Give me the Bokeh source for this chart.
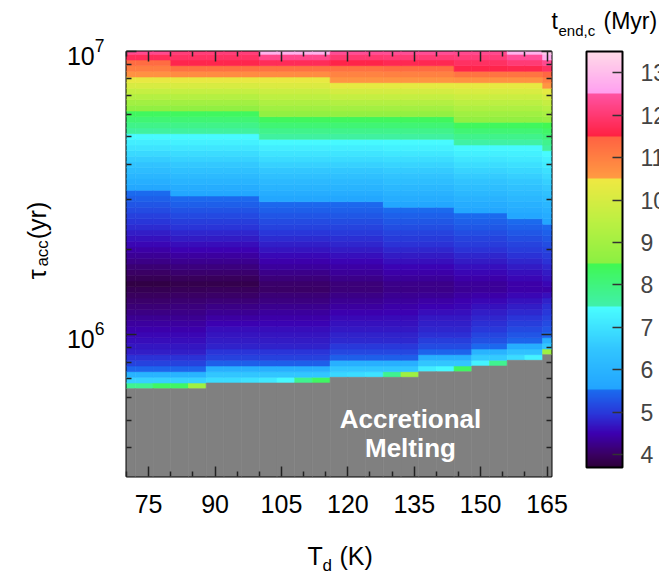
import numpy as np
from bokeh.plotting import figure
from bokeh.layouts import row
from bokeh.models import (Range1d, FixedTicker, LogAxis, LinearAxis, ColorBar,
                          LinearColorMapper, Label, ColumnDataSource)
from bokeh.core.properties import value
from bokeh.transform import linear_cmap
from bokeh.embed import file_html
from bokeh.resources import INLINE

# ---------------- data ----------------
# dust temperature columns (K), cell width 4 K
T_d = [70, 74, 78, 82, 86, 90, 94, 98, 102, 106, 110, 114, 118, 122, 126,
       130, 134, 138, 142, 146, 150, 154, 158, 162, 166]
# log10(tau_acc / yr) of the accretional-melting limit (grey below)
melt_log_tau = [5.81, 5.81, 5.81, 5.81, 5.81, 5.83, 5.83, 5.83, 5.83, 5.83, 5.83, 5.83,
                5.85, 5.85, 5.85, 5.85, 5.85, 5.87, 5.87, 5.87, 5.89, 5.89, 5.91, 5.91, 5.93]
# t_end,c (Myr) in the row just above the melting limit
edge_t_end = [7.8, 7.8, 8.3, 8.3, 8.9, 6.9, 6.9, 7.0, 7.1, 7.4, 7.8, 8.3,
              6.8, 6.9, 7.0, 7.8, 8.9, 7.2, 7.4, 8.3, 7.3, 7.8, 6.9, 7.3, 8.9]
# lower profile: offsets in log tau above the melting limit and t_end there
melt_group = [0, 0, 0, 0, 0, 1, 1, 1, 1, 1, 1, 1, 2, 2, 2, 2, 2, 3, 3, 3, 4, 4, 5, 5, 6]
lower_offsets = [0.03, 0.05, 0.07, 0.09, 0.13, 0.19]
lower_t_end = [
    [6.7, 6.0, 5.45, 5.1, 4.75, 4.55],
    [6.5, 5.9, 5.4, 5.1, 4.8, 4.6],
    [6.5, 5.9, 5.4, 5.15, 4.85, 4.65],
    [6.5, 5.9, 5.45, 5.2, 4.9, 4.7],
    [6.6, 6.0, 5.5, 5.25, 5.0, 4.75],
    [6.4, 5.8, 5.45, 5.3, 5.05, 4.75],
    [6.5, 5.9, 5.5, 5.3, 5.1, 4.8],
]
# upper profile groups (columns share the coarse upper structure)
upper_group = [0, 0, 0, 1, 1, 1, 1, 1, 2, 2, 2, 2, 3, 3, 3, 4, 4, 4, 4, 5, 5, 5, 6, 6, 7]
min_log_tau = [6.18, 6.18, 6.17, 6.17, 6.17, 6.17, 6.17, 6.16]
min_t_end = [3.8, 3.85, 4.0, 4.1, 4.2, 4.3, 4.4, 4.45]
log_tau_at_5p55 = [6.509, 6.491, 6.471, 6.471, 6.450, 6.430, 6.410, 6.391]
log_tau_at_7p5 = [6.709, 6.709, 6.692, 6.692, 6.692, 6.674, 6.674, 6.650]
log_tau_at_8p5 = [6.792, 6.792, 6.770, 6.770, 6.770, 6.750, 6.750, 6.740]
log_tau_at_10p5 = [6.909, 6.909, 6.909, 6.892, 6.892, 6.892, 6.892, 6.874]
log_tau_at_11p5 = [6.971, 6.951, 6.951, 6.957, 6.951, 6.933, 6.933, 6.925]
top_t_end = [12.3, 12.1, 12.8, 12.4, 12.4, 12.3, 12.8, 13.2]

# colour bar
cb_low, cb_high = 3.7, 13.5
cb_ticks = [4, 5, 6, 7, 8, 9, 10, 11, 12, 13]

# ---------------- colour map ----------------
cmap_vals = [3.7, 4.0, 4.5, 4.95, 5.5499, 5.55, 6.5, 7.4999, 7.5, 8.4999, 8.5, 9.5,
             10.4999, 10.5, 11.4999, 11.5, 12.4999, 12.5, 13.5]
cmap_cols = ['#2d0038', '#3a0062', '#3c00b0', '#2a34d8', '#1a6ef0', '#22a4ff', '#32c6ff',
             '#4affff', '#40f0aa', '#40f852', '#8af042', '#bcf042', '#f0e842', '#ff9c42',
             '#ff6242', '#ff2042', '#ff52a2', '#ff9ef0', '#ffdce8']


def hex2rgb(h):
    return [int(h[i:i + 2], 16) for i in (1, 3, 5)]


rgb = np.array([hex2rgb(c) for c in cmap_cols], dtype=float)
n_col = 490
palette = []
for i in range(n_col):
    v = cb_low + (i + 0.5) * (cb_high - cb_low) / n_col
    r, g, b = (np.interp(v, cmap_vals, rgb[:, k]) for k in range(3))
    palette.append('#%02x%02x%02x' % (int(round(r)), int(round(g)), int(round(b))))

# ---------------- build the cells ----------------
row_centres = np.round(5.50 + 0.02 * np.arange(76), 2)
cells = dict(left=[], right=[], bottom=[], top=[], t_end=[])
grey = dict(left=[], right=[], bottom=[], top=[])
for c, T in enumerate(T_d):
    m = melt_log_tau[c]
    mg = melt_group[c]
    ug = upper_group[c]
    ax = [m + 0.01] + [m + o for o in lower_offsets] + [min_log_tau[ug],
          log_tau_at_5p55[ug], log_tau_at_7p5[ug], log_tau_at_8p5[ug],
          log_tau_at_10p5[ug], log_tau_at_11p5[ug], 7.0]
    av = [edge_t_end[c]] + lower_t_end[mg] + [min_t_end[ug], 5.55, 7.5, 8.5, 10.5, 11.5,
                                               top_t_end[ug]]
    grey['left'].append(T - 2)
    grey['right'].append(T + 2)
    grey['bottom'].append(10 ** 5.49)
    grey['top'].append(10 ** m)
    for lc in row_centres:
        if lc < m + 0.005:
            continue
        cells['left'].append(T - 2)
        cells['right'].append(T + 2)
        cells['bottom'].append(10 ** (lc - 0.01))
        cells['top'].append(10 ** (lc + 0.01))
        cells['t_end'].append(float(np.interp(lc, ax, av)))

FONT = "Liberation Sans"
LEFT_W = 60      # width of the strip that holds the rotated y title
FRAME_L, FRAME_B = 126, 476   # frame position on the page

p = figure(width=659 - LEFT_W, height=575, output_backend="svg", toolbar_location=None,
           y_axis_type="log", x_range=Range1d(70, 166), y_range=Range1d(10 ** 5.5, 1e7),
           min_border_left=FRAME_L - LEFT_W, min_border_right=108, min_border_top=51,
           min_border_bottom=99)
p.grid.visible = False
p.outline_line_color = "black"
p.outline_line_width = 2
p.background_fill_color = "white"
p.border_fill_color = "white"

cmap = linear_cmap('t_end', palette, cb_low, cb_high)
p.quad(left='left', right='right', bottom='bottom', top='top', source=ColumnDataSource(cells),
       fill_color=cmap, line_color=cmap, line_width=0.6)
p.quad(left='left', right='right', bottom='bottom', top='top', source=ColumnDataSource(grey),
       fill_color="#808080", line_color="#808080", line_width=0.6)

x_ticker = FixedTicker(ticks=[75, 90, 105, 120, 135, 150, 165],
                       minor_ticks=[70, 80, 85, 95, 100, 110, 115, 125, 130, 140, 145, 155, 160])
y_ticker = FixedTicker(ticks=[1e6, 1e7],
                       minor_ticks=[4e5, 5e5, 6e5, 7e5, 8e5, 9e5, 2e6, 3e6, 4e6, 5e6, 6e6,
                                    7e6, 8e6, 9e6])


def style_axis(ax, labels=True):
    ax.axis_line_color = None
    ax.major_tick_in = 10
    ax.major_tick_out = 0
    ax.minor_tick_in = 5
    ax.minor_tick_out = 0
    ax.major_tick_line_color = "#222222"
    ax.minor_tick_line_color = "#222222"
    ax.major_tick_line_width = 1.5
    ax.minor_tick_line_width = 1.5
    ax.major_label_text_font = FONT
    ax.major_label_text_font_size = "25px"
    ax.major_label_text_color = "black" if labels else None


p.xaxis.ticker = x_ticker
p.yaxis.ticker = y_ticker
style_axis(p.xaxis[0])
style_axis(p.yaxis[0])
p.xaxis.major_label_standoff = 18
p.yaxis.major_label_standoff = 22

top_ax = LinearAxis(ticker=x_ticker)
style_axis(top_ax, labels=False)
p.add_layout(top_ax, "above")
right_ax = LogAxis(ticker=y_ticker)
style_axis(right_ax, labels=False)
p.add_layout(right_ax, "right")

# accretional melting text (inside the frame)
p.add_layout(Label(x=284, y=58, x_units="screen", y_units="screen", text="Accretional",
                   text_align="center", text_baseline="alphabetic", text_color="white",
                   text_font=FONT, text_font_style="bold", text_font_size="26px"))
p.add_layout(Label(x=284, y=29, x_units="screen", y_units="screen", text="Melting",
                   text_align="center", text_baseline="alphabetic", text_color="white",
                   text_font=FONT, text_font_style="bold", text_font_size="26px"))

# colour bar
mapper = LinearColorMapper(palette=palette, low=cb_low, high=cb_high)
cb = ColorBar(color_mapper=mapper, ticker=FixedTicker(ticks=cb_ticks), width=36, height=416,
              location=(460, 9), padding=0, margin=0, bar_line_color="black",
              bar_line_width=2, major_tick_in=10, major_tick_out=0,
              major_tick_line_color="#333333", major_tick_line_width=1.5,
              minor_tick_line_color=None, label_standoff=18, orientation="vertical",
              major_label_text_font=FONT, major_label_text_font_size="23px",
              background_fill_color=None, border_line_color=None)
p.add_layout(cb, "center")


# free horizontal texts outside the frame (page x, page baseline y)
def free_text(px, py, text, size):
    fs = float(size.replace("px", ""))
    loc_x = px - FRAME_L
    loc_y = FRAME_B - 1 - 0.212 * fs - py
    t = ColorBar(color_mapper=LinearColorMapper(palette=["#ffffff"], low=0, high=1),
                 ticker=FixedTicker(ticks=[]), width=2, height=2, location=(loc_x, loc_y),
                 padding=0, margin=0, title=text, title_text_font=FONT,
                 orientation="horizontal",
                 title_text_font_size=size, title_text_font_style="normal",
                 title_text_color="black", title_standoff=0, scale_alpha=0,
                 bar_line_color=None, major_tick_line_color=None, minor_tick_line_color=None,
                 major_label_text_font_size="0px", background_fill_color=None,
                 border_line_color=None)
    p.add_layout(t, "center")


# x axis title  T_d (K)
free_text(307, 565, "T", "25px")
free_text(322, 572, "d", "17px")
free_text(339, 565, "(K)", "25px")
# colour bar title  t_end,c (Myr)
free_text(551, 30, "t", "23px")
free_text(558, 36, "end,c", "15px")
free_text(603, 30, "(Myr)", "23px")

# strip with the rotated y title  tau_acc (yr)
ys = figure(width=LEFT_W, height=575, output_backend="svg", toolbar_location=None,
            x_range=Range1d(0, LEFT_W), y_range=Range1d(0, 575),
            min_border=0, min_border_left=0, min_border_right=0, min_border_top=0,
            min_border_bottom=0)
ys.axis.visible = False
ys.grid.visible = False
ys.outline_line_color = None
ys.background_fill_color = "white"
ys.border_fill_color = "white"
ytitle_text = ["τ", "acc", "(yr)"]
ytitle_x = [36, 42, 36]
ytitle_y = [575 - 308, 575 - 291, 575 - 254]
ytitle_size = ["25px", "17px", "25px"]
ys.text(x=ytitle_x, y=ytitle_y, text=ytitle_text, angle=np.pi / 2, text_align="left",
        text_baseline="alphabetic", text_font=value(FONT), text_font_size=ytitle_size,
        text_color="black")

layout = row(ys, p, spacing=0)
open("out.html", "w").write(file_html(layout, INLINE))
